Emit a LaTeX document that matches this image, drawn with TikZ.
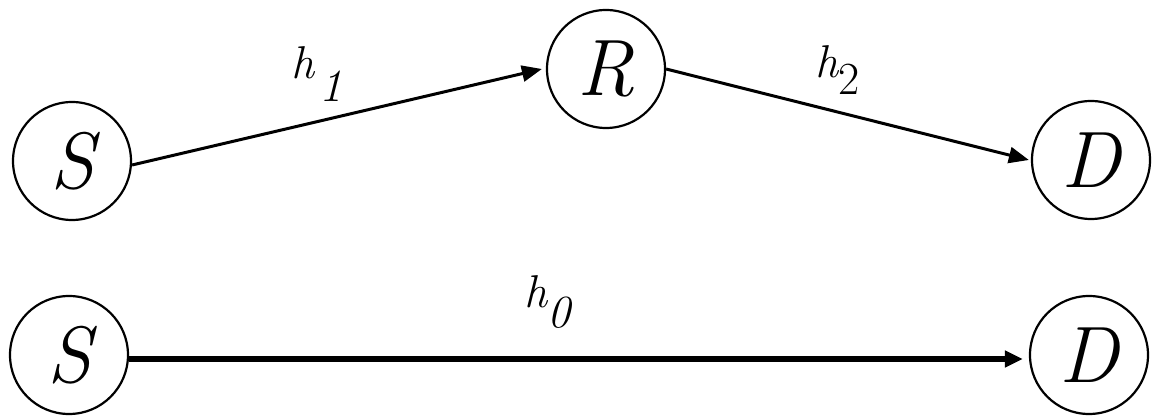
\documentclass[tikz,border=0pt]{standalone}
\usetikzlibrary{arrows.meta}
\begin{document}
\begin{tikzpicture}[x=0.5pt,y=-0.5pt,
  vtx/.style={circle,draw,line width=1.1pt,minimum size=59pt,inner sep=0pt,
    font=\fontsize{40}{44}\selectfont\itshape},
  edge/.style={line width=1.5pt,-{Triangle[length=10pt,width=8pt]}},
  thick edge/.style={line width=2.6pt,-{Triangle[length=9pt,width=8pt]}},
  lab/.style={inner sep=0pt,font=\fontsize{23}{26}\selectfont\itshape}]
\useasboundingbox (0,0) rectangle (1152,416);
\node[vtx] (S1) at (72,161) {S};
\node[vtx] (R) at (606,69) {R};
\node[vtx] (D1) at (1091,160) {D};
\node[vtx] (S2) at (69,355) {S};
\node[vtx] (D2) at (1089,355) {D};
\draw[edge] ([yshift=-2pt]S1.east) -- ([xshift=-2pt]R.west);
\draw[edge] (R.east) -- ([xshift=-1pt]D1.west);
\draw[thick edge] ([yshift=-2pt]S2.east) -- ([xshift=-3pt,yshift=-2pt]D2.west);
\node[lab] (h1) at (317,74) {h\kern0.1em\raisebox{-0.5em}{1}};
\node[lab] (h2) at (838,70) {h\raisebox{-0.35em}{\upshape 2}};
\node[lab] (h0) at (547,302) {h\raisebox{-0.45em}{0}};
\end{tikzpicture}
\end{document}
